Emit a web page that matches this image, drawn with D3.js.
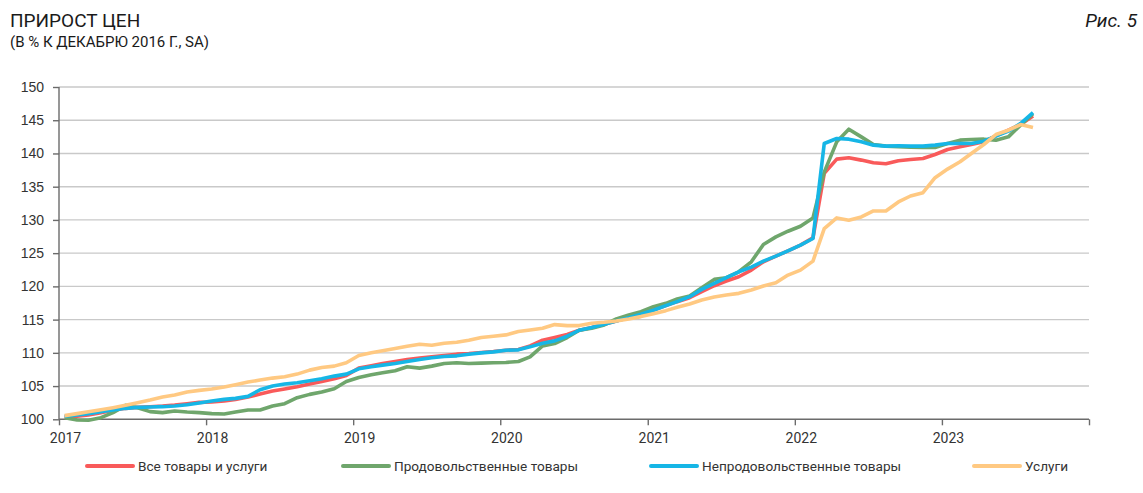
<!DOCTYPE html>
<html>
<head>
<meta charset="utf-8">
<script src="https://cdn.jsdelivr.net/npm/d3@7"></script>
<style>
	body { margin: 0; background: #fff; }
	svg { display: block; }
</style>
</head>
<body>
<svg id="svg" width="1143" height="493"></svg>
<script>
// monthly, jan 2017 .. aug 2023, dec 2016 = 100
var allGoods = [
	100.35,100.45,100.65,101.0,101.35,101.65,101.8,101.9,102.0,102.15,102.35,102.55,
	102.6,102.75,103.0,103.35,103.8,104.25,104.55,104.9,105.3,105.7,106.1,106.6,
	107.7,108.05,108.4,108.7,109.0,109.2,109.4,109.6,109.8,109.9,110.05,110.2,
	110.4,110.5,111.05,111.9,112.3,112.75,113.4,113.8,114.3,114.8,115.3,115.8,
	116.45,117.1,117.7,118.3,119.2,120.1,120.8,121.45,122.45,123.7,124.55,125.35,
	126.2,127.3,137.0,139.15,139.35,139.0,138.6,138.45,138.9,139.1,139.25,139.85,
	140.6,141.0,141.35,141.75,142.65,143.5,144.35,145.65
];
var food = [
	100.25,99.9,99.85,100.25,101.0,102.1,101.75,101.15,101.0,101.25,101.1,101.0,
	100.85,100.8,101.1,101.4,101.4,102.0,102.35,103.25,103.75,104.1,104.6,105.7,
	106.3,106.7,107.0,107.3,107.9,107.7,108.0,108.4,108.5,108.4,108.45,108.5,
	108.55,108.7,109.4,111.05,111.4,112.3,113.4,113.7,114.2,115.1,115.7,116.2,
	116.95,117.45,118.1,118.55,119.8,121.05,121.3,122.2,123.7,126.3,127.45,128.3,
	129.05,130.3,137.2,141.75,143.65,142.5,141.35,141.1,141.0,140.95,140.9,140.9,
	141.5,142.0,142.1,142.15,142.0,142.5,144.25,146.0
];
var nonFood = [
	100.45,100.65,100.85,101.15,101.4,101.65,101.8,101.85,101.9,102.0,102.2,102.45,
	102.75,103.0,103.15,103.45,104.45,105.0,105.3,105.5,105.8,106.1,106.5,106.8,
	107.6,107.9,108.15,108.4,108.7,109.0,109.25,109.45,109.55,109.8,110.0,110.15,
	110.4,110.45,110.9,111.45,111.8,112.5,113.4,113.8,114.3,114.8,115.3,115.8,
	116.4,117.1,117.7,118.45,119.55,120.45,121.3,122.2,122.9,123.8,124.55,125.35,
	126.2,127.2,141.5,142.25,142.15,141.75,141.25,141.1,141.15,141.1,141.1,141.25,
	141.5,141.5,141.5,141.85,142.6,143.35,144.5,146.15
];
var services = [
	100.55,100.85,101.15,101.45,101.75,102.1,102.5,102.9,103.35,103.65,104.1,104.35,
	104.55,104.85,105.2,105.6,105.9,106.2,106.4,106.8,107.4,107.8,108.0,108.5,
	109.6,110.0,110.3,110.65,111.0,111.3,111.15,111.45,111.6,111.9,112.3,112.5,
	112.7,113.2,113.45,113.7,114.25,114.1,114.1,114.45,114.6,114.8,115.1,115.45,
	115.9,116.35,116.85,117.35,117.95,118.4,118.7,118.95,119.45,120.05,120.55,121.7,
	122.45,123.8,128.7,130.3,129.95,130.45,131.35,131.35,132.7,133.6,134.1,136.35,
	137.65,138.75,140.0,141.35,142.85,143.5,144.35,143.9
];

var seriesNames = ['Все товары и услуги', 'Продовольственные товары', 'Непродовольственные товары', 'Услуги'];
var seriesColors = ['#f95a5a', '#6fa66c', '#16b6e6', '#ffc982'];
var yTicks = [100, 105, 110, 115, 120, 125, 130, 135, 140, 145, 150];
var yearTicks = [2017, 2018, 2019, 2020, 2021, 2022, 2023, 2024];

var CH = {};

CH.months = d3.timeMonth.range(new Date(2017, 0, 1), new Date(2023, 8, 1));

CH.x = d3.scaleTime()
	.domain([new Date(2017, 0, 1), new Date(2024, 0, 1)])
	.range([59, 1089]);

CH.y = d3.scaleLinear()
	.domain([100, 150])
	.range([419.3, 87]);

CH.draw = function(){
	var svg = d3.select('#svg'),
		x = CH.x,
		y = CH.y;

	// titles
	svg.append('text')
		.attr('x', 10).attr('y', 27)
		.style('font-family', 'Roboto, sans-serif')
		.style('font-size', '19px')
		.style('fill', '#1a1a1a')
		.text('ПРИРОСТ ЦЕН');
	svg.append('text')
		.attr('x', 10).attr('y', 47)
		.style('font-family', 'Roboto, sans-serif')
		.style('font-size', '15px')
		.style('fill', '#1a1a1a')
		.text('(В % К ДЕКАБРЮ 2016 Г., SA)');
	svg.append('text')
		.attr('x', 1137).attr('y', 27)
		.attr('text-anchor', 'end')
		.style('font-family', 'Roboto, sans-serif')
		.style('font-size', '19px')
		.style('font-style', 'italic')
		.style('fill', '#1a1a1a')
		.text('Рис. 5');

	// grid
	svg.append('g')
		.selectAll('line')
		.data(yTicks.slice(1))
		.enter()
		.append('line')
		.attr('x1', 59).attr('x2', 1089)
		.attr('y1', function(d){ return y(d); })
		.attr('y2', function(d){ return y(d); })
		.style('stroke', '#c9c9c9')
		.style('stroke-width', 1.4);

	// y axis
	var yAxis = svg.append('g')
		.attr('transform', 'translate(59,0)')
		.call(d3.axisLeft(y).tickValues(yTicks).tickSize(6).tickPadding(9));
	yAxis.selectAll('line, path').style('stroke', '#6b6b6b').style('stroke-width', 1.4);
	yAxis.select('.domain').attr('d', 'M0,' + y(150) + 'V' + y(100));
	yAxis.selectAll('text')
		.style('font-family', '"Liberation Sans", Arial, sans-serif')
		.style('font-size', '14px')
		.style('fill', '#333');

	// x axis
	var xAxis = svg.append('g')
		.attr('transform', 'translate(0,' + y(100) + ')')
		.call(d3.axisBottom(x)
			.tickValues(yearTicks.map(function(d){ return new Date(d, 0, 1); }))
			.tickSize(6)
			.tickFormat(function(d){ return d.getFullYear() < 2024 ? d.getFullYear() : ''; }));
	xAxis.selectAll('line, path').style('stroke', '#6b6b6b').style('stroke-width', 1.4);
	xAxis.select('.domain').attr('d', 'M' + x.range()[0] + ',0H' + x.range()[1]);
	xAxis.selectAll('text')
		.attr('x', 6)
		.attr('y', 14)
		.style('font-family', 'Roboto, sans-serif')
		.style('font-size', '14px')
		.style('fill', '#333');

	// lines, services on top
	var line = d3.line()
		.x(function(d, i){ return x(d3.timeDay.offset(CH.months[i], 14)); })
		.y(function(d){ return y(d); });

	svg.append('g')
		.selectAll('path')
		.data([allGoods, food, nonFood, services])
		.enter()
		.append('path')
		.attr('d', line)
		.style('fill', 'none')
		.style('stroke', function(d, i){ return seriesColors[i]; })
		.style('stroke-width', 3.6)
		.style('stroke-linejoin', 'round');

	// legend
	var legendX = [87, 343, 651, 974];
	var legend = svg.append('g')
		.selectAll('g')
		.data(seriesNames)
		.enter()
		.append('g')
		.attr('transform', function(d, i){ return 'translate(' + legendX[i] + ',466)'; });
	legend.append('line')
		.attr('x1', 0).attr('x2', 46)
		.style('stroke', function(d, i){ return seriesColors[i]; })
		.style('stroke-width', 4)
		.style('stroke-linecap', 'round');
	legend.append('text')
		.attr('x', 51).attr('y', 5)
		.style('font-family', 'Roboto, sans-serif')
		.style('font-size', '13.6px')
		.style('fill', '#333')
		.text(function(d){ return d; });
};

CH.draw();
</script>
</body>
</html>
